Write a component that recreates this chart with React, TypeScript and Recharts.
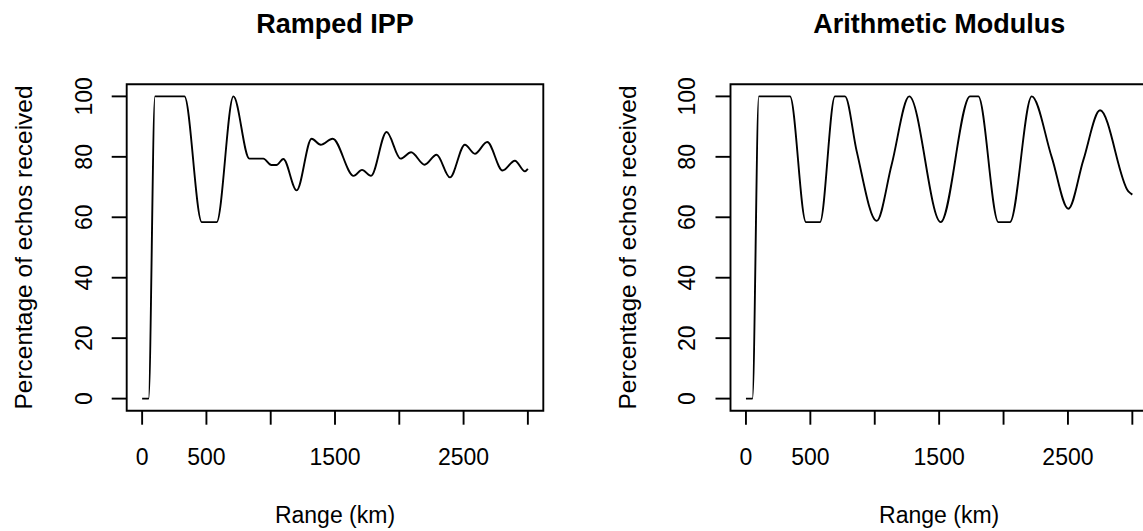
import React from 'react';
import { LineChart, Line, XAxis, YAxis, ReferenceArea } from 'recharts';

// ---- data ----
const rampedRange = [0, 50, 100, 329, 464, 580, 710, 834, 943, 1005, 1045, 1098, 1202, 1318, 1389, 1482, 1645, 1710, 1780, 1901, 2010, 2092, 2197, 2290, 2394, 2510, 2588, 2684, 2803, 2899, 2977, 3000];
const rampedPct = [0, 0, 100, 100, 58.4, 58.4, 100, 79.4, 79.4, 77.3, 77.3, 79.3, 68.9, 86.0, 84.0, 86.0, 73.7, 75.7, 73.7, 88.2, 79.4, 81.5, 77.4, 80.7, 73.2, 84.0, 81.0, 84.9, 75.5, 78.7, 75.2, 76.0];

const arithRange = [0, 50, 100, 342, 466, 575, 691, 769, 860, 1015, 1131, 1268, 1512, 1740, 1804, 1960, 2050, 2219, 2374, 2503, 2620, 2749, 2969, 3000];
const arithPct = [0, 0, 100, 100, 58.4, 58.4, 100, 100, 81.8, 58.8, 77.4, 100, 58.4, 100, 100, 58.4, 58.4, 100, 79.9, 62.8, 79.0, 95.4, 68.6, 67.5];

const xTicks = [0, 500, 1000, 1500, 2000, 2500, 3000];
const xTickLabels = [0, 500, 1500, 2500];
const yTicks = [0, 20, 40, 60, 80, 100];

const titles = ['Ramped IPP', 'Arithmetic Modulus'];
const xLabel = 'Range (km)';
const yLabel = 'Percentage of echos received';

const X_DOMAIN: [number, number] = [-120, 3120];
const Y_DOMAIN: [number, number] = [-4, 104];

const FONT = '"Liberation Sans", Arial, Helvetica, sans-serif';
const FS = 23;
const LW = 1.9;

const buildData = (xs: number[], ys: number[]) => xs.map((x, i) => ({ x, y: ys[i] }));

const XTick = (props: any) => {
  const { x, y, payload } = props;
  if (!xTickLabels.includes(payload.value)) return null;
  return (
    <text x={x} y={y + 40} textAnchor="middle" fontSize={FS} fontFamily={FONT} fill="#000">
      {payload.value}
    </text>
  );
};

const YTick = (props: any) => {
  const { x, y, payload } = props;
  const tx = x - 20;
  return (
    <text x={tx} y={y} transform={`rotate(-90, ${tx}, ${y})`} textAnchor="middle" fontSize={FS} fontFamily={FONT} fill="#000">
      {payload.value}
    </text>
  );
};

type PanelProps = {
  left: number;
  width: number;
  marginLeft: number;
  marginRight: number;
  title: string;
  data: { x: number; y: number }[];
};

const TOP = 84.3;
const BOTTOM = 410.7;
const H = 531;
const YAXIS_W = 60;
const XAXIS_H = 60;

const Panel = ({ left, width, marginLeft, marginRight, title, data }: PanelProps) => {
  const plotLeft = marginLeft + YAXIS_W;
  const plotRight = width - marginRight;
  const cx = (plotLeft + plotRight) / 2;
  const cy = (TOP + BOTTOM) / 2;
  const yLabX = plotLeft - 95;
  return (
    <div style={{ position: 'absolute', left, top: 0, width, height: H }}>
      <LineChart
        width={width}
        height={H}
        data={data}
        margin={{ top: TOP, right: marginRight, bottom: H - BOTTOM - XAXIS_H, left: marginLeft }}
      >
        <XAxis
          dataKey="x"
          type="number"
          domain={X_DOMAIN}
          ticks={xTicks}
          allowDataOverflow
          axisLine={false}
          tickLine={{ stroke: '#000', strokeWidth: LW }}
          tickSize={14}
          tickMargin={0}
          height={XAXIS_H}
          tick={<XTick />}
          interval={0}
        />
        <YAxis
          type="number"
          domain={Y_DOMAIN}
          ticks={yTicks}
          allowDataOverflow
          axisLine={false}
          tickLine={{ stroke: '#000', strokeWidth: LW }}
          tickSize={15}
          tickMargin={0}
          width={YAXIS_W}
          tick={<YTick />}
          interval={0}
        />
        <ReferenceArea
          x1={X_DOMAIN[0]}
          x2={X_DOMAIN[1]}
          y1={Y_DOMAIN[0]}
          y2={Y_DOMAIN[1]}
          fill="none"
          fillOpacity={0}
          stroke="#000"
          strokeWidth={LW}
          ifOverflow="visible"
        />
        <Line
          dataKey="y"
          type="monotone"
          dot={false}
          activeDot={false}
          stroke="#000"
          strokeWidth={LW}
          isAnimationActive={false}
        />
      </LineChart>
      <svg
        width={width}
        height={H}
        style={{ position: 'absolute', left: 0, top: 0, pointerEvents: 'none' }}
      >
        <text x={cx} y={33} textAnchor="middle" fontSize={27} fontWeight="bold" fontFamily={FONT} fill="#000">
          {title}
        </text>
        <text x={cx} y={523} textAnchor="middle" fontSize={FS} fontFamily={FONT} fill="#000">
          {xLabel}
        </text>
        <text x={yLabX} y={cy} transform={`rotate(-90, ${yLabX}, ${cy})`} textAnchor="middle" fontSize={24.5} fontFamily={FONT} fill="#000">
          {yLabel}
        </text>
      </svg>
    </div>
  );
};

export default function App() {
  return (
    <div style={{ position: 'absolute', left: 0, top: 0, width: 1143, height: H, overflow: 'hidden', background: '#fff' }}>
      <Panel left={0} width={571} marginLeft={66.7} marginRight={27.7} title={titles[0]} data={buildData(rampedRange, rampedPct)} />
      <Panel left={571} width={580} marginLeft={99.5} marginRight={3.2} title={titles[1]} data={buildData(arithRange, arithPct)} />
    </div>
  );
}
